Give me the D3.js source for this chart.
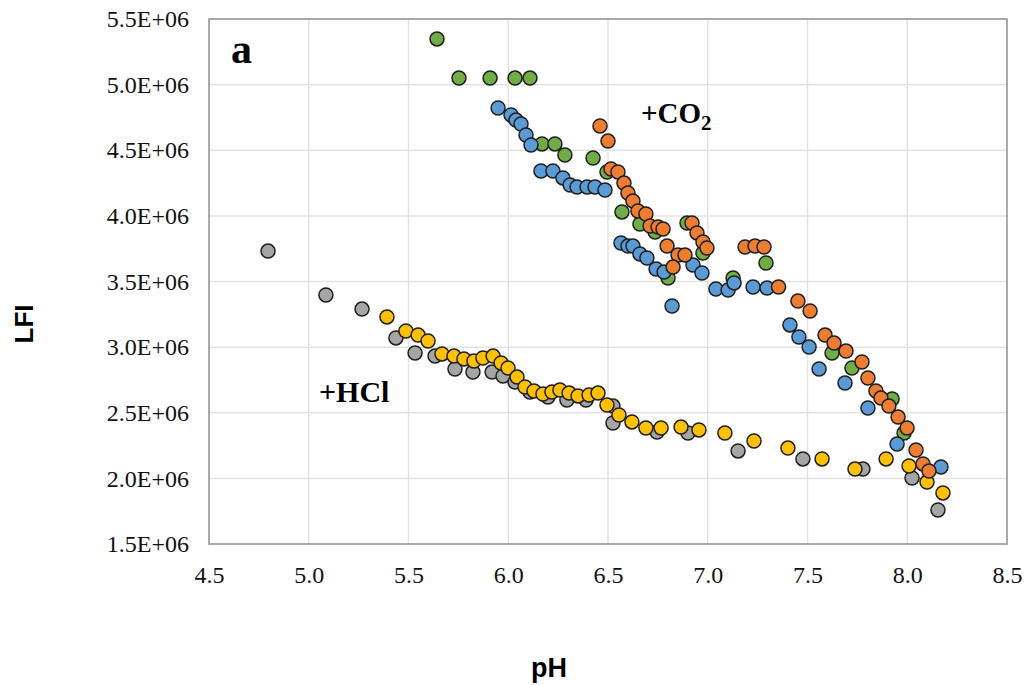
<!DOCTYPE html>
<html>
<head>
<meta charset="utf-8">
<script src="https://cdn.jsdelivr.net/npm/d3@7"></script>
<style>
  body { margin: 0; background: #fff; }
</style>
</head>
<body>
<div id="chart"></div>
<script>
// pH and LFI (in millions) for each series
var greenPH  = [5.643, 5.753, 5.909, 6.034, 6.109, 6.169, 6.234, 6.284, 6.425, 6.495, 6.570, 6.660, 6.736, 6.801, 6.896, 6.976, 7.127, 7.292, 7.623, 7.723, 7.924, 7.984]
var greenLFI = [5.348, 5.050, 5.050, 5.050, 5.050, 4.548, 4.548, 4.464, 4.441, 4.334, 4.030, 3.938, 3.877, 3.527, 3.946, 3.717, 3.527, 3.641, 2.955, 2.841, 2.605, 2.346]

var bluePH  = [5.949, 6.014, 6.039, 6.064, 6.089, 6.114, 6.164, 6.224, 6.274, 6.310, 6.345, 6.395, 6.435, 6.485, 6.565, 6.600, 6.625, 6.660, 6.695, 6.741, 6.781, 6.821, 6.926, 6.971, 7.041, 7.102, 7.132, 7.227, 7.297, 7.412, 7.457, 7.508, 7.558, 7.688, 7.803, 7.949, 8.169]
var blueLFI = [4.822, 4.769, 4.730, 4.700, 4.616, 4.540, 4.342, 4.342, 4.289, 4.235, 4.220, 4.220, 4.220, 4.197, 3.793, 3.770, 3.770, 3.710, 3.679, 3.595, 3.572, 3.313, 3.626, 3.565, 3.443, 3.435, 3.489, 3.458, 3.450, 3.169, 3.077, 3.001, 2.833, 2.727, 2.536, 2.262, 2.087]

var orangePH  = [6.460, 6.500, 6.515, 6.550, 6.580, 6.600, 6.625, 6.650, 6.690, 6.711, 6.751, 6.776, 6.796, 6.851, 6.886, 6.826, 6.921, 6.946, 6.976, 6.996, 7.187, 7.237, 7.282, 7.355, 7.452, 7.513, 7.588, 7.633, 7.693, 7.773, 7.803, 7.843, 7.868, 7.908, 7.954, 7.999, 8.044, 8.079, 8.109]
var orangeLFI = [4.685, 4.570, 4.357, 4.334, 4.250, 4.174, 4.113, 4.037, 4.014, 3.923, 3.915, 3.900, 3.770, 3.702, 3.702, 3.610, 3.946, 3.870, 3.801, 3.755, 3.763, 3.770, 3.763, 3.458, 3.351, 3.275, 3.092, 3.031, 2.970, 2.887, 2.765, 2.666, 2.612, 2.551, 2.467, 2.384, 2.216, 2.110, 2.056]

var grayPH  = [4.796, 5.086, 5.267, 5.437, 5.533, 5.633, 5.733, 5.823, 5.919, 5.974, 6.034, 6.109, 6.199, 6.294, 6.390, 6.525, 6.525, 6.746, 6.901, 7.152, 7.477, 7.778, 8.024, 8.154]
var grayLFI = [3.732, 3.397, 3.290, 3.070, 2.955, 2.932, 2.833, 2.810, 2.810, 2.780, 2.734, 2.658, 2.620, 2.597, 2.597, 2.551, 2.422, 2.353, 2.346, 2.209, 2.148, 2.071, 2.003, 1.759]

var yellowPH  = [5.392, 5.487, 5.548, 5.598, 5.668, 5.728, 5.778, 5.828, 5.873, 5.924, 5.964, 5.999, 6.044, 6.084, 6.129, 6.174, 6.219, 6.259, 6.305, 6.350, 6.405, 6.450, 6.495, 6.555, 6.620, 6.690, 6.766, 6.866, 6.956, 7.086, 7.232, 7.402, 7.573, 7.738, 7.894, 8.009, 8.099, 8.179]
var yellowLFI = [3.230, 3.123, 3.092, 3.047, 2.948, 2.932, 2.910, 2.894, 2.917, 2.932, 2.879, 2.841, 2.772, 2.696, 2.666, 2.643, 2.658, 2.673, 2.650, 2.628, 2.635, 2.650, 2.559, 2.483, 2.430, 2.384, 2.384, 2.391, 2.369, 2.346, 2.285, 2.231, 2.148, 2.071, 2.148, 2.094, 1.972, 1.889]

var xTicks = [4.5, 5.0, 5.5, 6.0, 6.5, 7.0, 7.5, 8.0, 8.5]
var yTicks = [1.5, 2.0, 2.5, 3.0, 3.5, 4.0, 4.5, 5.0, 5.5]

// drawing order: later series sit on top
var series = [
  {name: "gray",   ph: grayPH,   lfi: grayLFI,   color: "#a5a5a5"},
  {name: "yellow", ph: yellowPH, lfi: yellowLFI, color: "#ffc000"},
  {name: "green",  ph: greenPH,  lfi: greenLFI,  color: "#70ad47"},
  {name: "blue",   ph: bluePH,   lfi: blueLFI,   color: "#5b9bd5"},
  {name: "orange", ph: orangePH, lfi: orangeLFI, color: "#ed7d31"}
]

var W = 1028, H = 685
var pLeft = 209, pRight = 1007, pTop = 19, pBottom = 544
var serif = "'Liberation Serif', 'Times New Roman', serif"
var sans = "'Liberation Sans', Arial, sans-serif"

var svg = d3.select("#chart").append("svg")
    .attr("width", W)
    .attr("height", H)

var x = d3.scaleLinear().domain([4.5, 8.5]).range([pLeft, pRight])
var y = d3.scaleLinear().domain([1.5, 5.5]).range([pBottom, pTop])

// gridlines
svg.append("g")
  .selectAll("line")
  .data(xTicks.slice(1, -1))
  .enter().append("line")
    .attr("x1", function(d) { return x(d) })
    .attr("x2", function(d) { return x(d) })
    .attr("y1", pTop)
    .attr("y2", pBottom)
    .attr("stroke", "#e3e3e3")
    .attr("stroke-width", 1.5)

svg.append("g")
  .selectAll("line")
  .data(yTicks.slice(1, -1))
  .enter().append("line")
    .attr("x1", pLeft)
    .attr("x2", pRight)
    .attr("y1", function(d) { return y(d) })
    .attr("y2", function(d) { return y(d) })
    .attr("stroke", "#e3e3e3")
    .attr("stroke-width", 1.5)

// plot frame
svg.append("rect")
  .attr("x", pLeft)
  .attr("y", pTop)
  .attr("width", pRight - pLeft)
  .attr("height", pBottom - pTop)
  .attr("fill", "none")
  .attr("stroke", "#8f8f8f")
  .attr("stroke-width", 1.5)

// axes (labels only, the frame is drawn above)
var xAxis = svg.append("g")
  .attr("transform", "translate(0," + pBottom + ")")
  .call(d3.axisBottom(x).tickValues(xTicks).tickFormat(d3.format(".1f")).tickSize(0).tickPadding(22))
xAxis.select(".domain").remove()
xAxis.attr("font-family", serif).attr("font-size", 24)
xAxis.selectAll("text").attr("fill", "#111")

var yAxis = svg.append("g")
  .attr("transform", "translate(" + pLeft + ",0)")
  .call(d3.axisLeft(y).tickValues(yTicks).tickFormat(function(d) { return d.toFixed(1) + "E+06" }).tickSize(0).tickPadding(20))
yAxis.select(".domain").remove()
yAxis.attr("font-family", serif).attr("font-size", 24)
yAxis.selectAll("text").attr("fill", "#111")

// points
series.forEach(function(s) {
  svg.append("g")
    .selectAll("circle")
    .data(d3.range(s.ph.length))
    .enter().append("circle")
      .attr("cx", function(i) { return x(s.ph[i]) })
      .attr("cy", function(i) { return y(s.lfi[i]) })
      .attr("r", 7)
      .attr("fill", s.color)
      .attr("stroke", "#1e1e1e")
      .attr("stroke-width", 1.5)
})

// annotations
svg.append("text")
  .attr("x", 231)
  .attr("y", 63)
  .attr("font-family", serif)
  .attr("font-weight", "bold")
  .attr("font-size", "42px")
  .attr("fill", "#000")
  .text("a")

var co2 = svg.append("text")
  .attr("x", 641)
  .attr("y", 123)
  .attr("font-family", serif)
  .attr("font-weight", "bold")
  .attr("font-size", "29px")
  .attr("fill", "#000")
co2.append("tspan").text("+CO")
co2.append("tspan").attr("font-size", "21px").attr("dy", 7).text("2")

svg.append("text")
  .attr("x", 319)
  .attr("y", 402)
  .attr("font-family", serif)
  .attr("font-weight", "bold")
  .attr("font-size", "30px")
  .attr("fill", "#000")
  .text("+HCl")

// axis titles
svg.append("text")
  .attr("x", 549)
  .attr("y", 677)
  .attr("text-anchor", "middle")
  .attr("font-family", sans)
  .attr("font-weight", "bold")
  .attr("font-size", "27px")
  .attr("fill", "#000")
  .text("pH")

svg.append("text")
  .attr("transform", "translate(33,324) rotate(-90)")
  .attr("text-anchor", "middle")
  .attr("font-family", sans)
  .attr("font-weight", "bold")
  .attr("font-size", "26px")
  .attr("fill", "#000")
  .text("LFI")
</script>
</body>
</html>
